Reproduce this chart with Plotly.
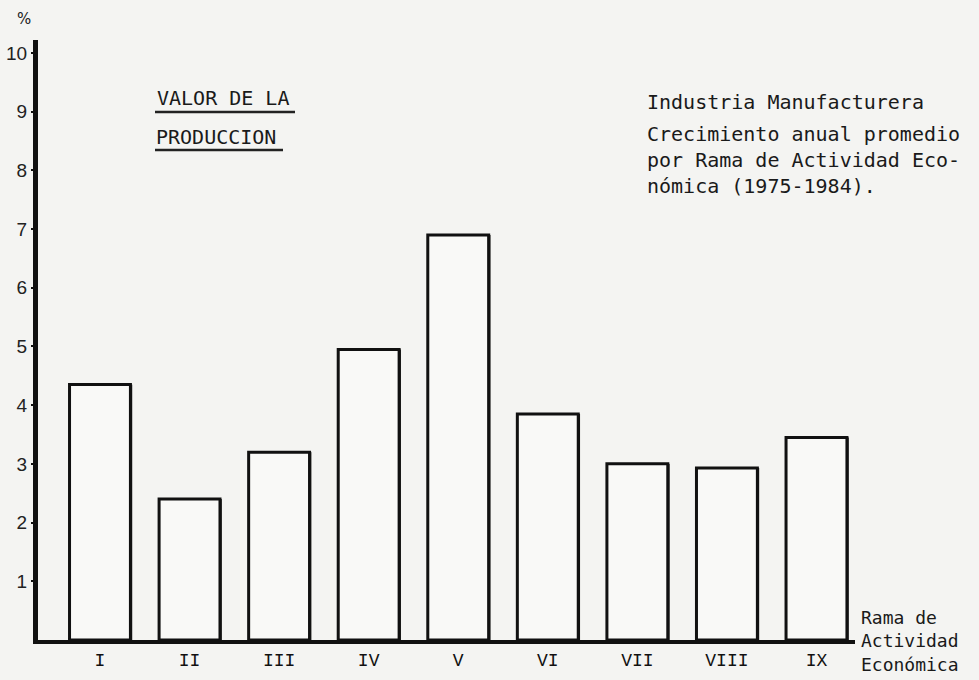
import plotly.graph_objects as go

# ---- data ----
ramas = ["I", "II", "III", "IV", "V", "VI", "VII", "VIII", "IX"]
crecimiento = [4.35, 2.4, 3.2, 4.95, 6.9, 3.85, 3.0, 2.93, 3.45]
y_ticks = [1, 2, 3, 4, 5, 6, 7, 8, 9, 10]

W, H = 979, 680
L, R, T, B = 38, 124, 40, 40
PW, PH = W - L - R, H - T - B

def px(xp):
    return (xp - L) / PW

def py(yp):
    return (H - B - yp) / PH

xpos = list(range(len(ramas)))
bar_w = 0.68

fig = go.Figure()
fig.add_trace(go.Bar(
    x=xpos, y=crecimiento, width=bar_w,
    marker=dict(color="#f9f9f7", line=dict(color="#111111", width=3)),
    hoverinfo="skip", showlegend=False,
))
# thicker right edge (shadow) of each bar
fig.add_trace(go.Bar(
    x=xpos, y=crecimiento, width=0.03, offset=bar_w / 2 - 0.01,
    marker=dict(color="#111111", line=dict(width=0)),
    hoverinfo="skip", showlegend=False,
))

fig.update_layout(
    width=W, height=H,
    margin=dict(l=L, r=R, t=T, b=B, autoexpand=False),
    paper_bgcolor="#f4f4f2", plot_bgcolor="#f4f4f2",
    barmode="overlay",
    showlegend=False,
    xaxis=dict(
        range=[-0.692, 8.43], tickmode="array", tickvals=xpos, ticktext=ramas,
        showgrid=False, zeroline=False, showline=True, linecolor="#111111", linewidth=4,
        ticks="", automargin=False,
        tickfont=dict(family="Liberation Mono", size=18, color="#111111"),
    ),
    yaxis=dict(
        range=[0, 10.22], tickmode="array", tickvals=y_ticks,
        ticktext=[str(v) for v in y_ticks],
        showgrid=False, zeroline=False, showline=True, linecolor="#111111", linewidth=5,
        ticks="outside", ticklen=2, tickwidth=2, tickcolor="#111111", automargin=False,
        tickfont=dict(family="Liberation Sans", size=19, color="#222222"),
    ),
)

def txt(text, xp, yp, anchor="left", size=20, yanchor="middle"):
    fig.add_annotation(text=text, xref="paper", yref="paper", x=px(xp), y=py(yp),
                       xanchor=anchor, yanchor=yanchor, align="left", showarrow=False,
                       font=dict(family="DejaVu Sans Mono", size=size, color="#1a1a1a"))

txt("Industria Manufacturera", 645, 102)
txt("Crecimiento anual promedio<br>por Rama de Actividad Eco-<br>nómica (1975-1984).", 645, 160)

txt("VALOR DE LA", 155, 98)
txt("PRODUCCION", 154, 137)

txt("Rama de<br>Actividad<br>Económica", 859, 641, size=18)

fig.add_annotation(text="%", xref="paper", yref="paper", x=px(24), y=py(19),
                   xanchor="center", yanchor="middle", showarrow=False,
                   font=dict(family="DejaVu Sans", size=15, color="#222222"))

for x0, x1, yy in [(155, 295, 112), (155, 283, 150)]:
    fig.add_shape(type="line", xref="paper", yref="paper",
                  x0=px(x0), x1=px(x1), y0=py(yy), y1=py(yy),
                  line=dict(color="#222222", width=2.5))

fig.write_html("out.html", config={"displayModeBar": False},
               post_script="document.body.style.margin='0';document.body.style.overflow='hidden';")
